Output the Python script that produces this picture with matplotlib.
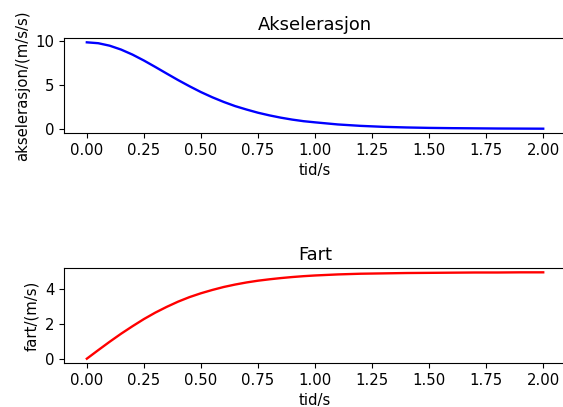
import matplotlib
matplotlib.use('Agg')
import matplotlib.pyplot as plt

# time points (s)
tid = [0.00, 0.05, 0.10, 0.15, 0.20, 0.25, 0.30, 0.35, 0.40, 0.45,
       0.50, 0.55, 0.60, 0.65, 0.70, 0.75, 0.80, 0.85, 0.90, 0.95,
       1.00, 1.10, 1.20, 1.30, 1.40, 1.50, 1.60, 1.70, 1.80, 1.90, 2.00]

# acceleration (m/s/s)
akselerasjon = [9.81, 9.71, 9.43, 8.99, 8.42, 7.75, 7.02, 6.27, 5.53, 4.83,
                4.17, 3.58, 3.05, 2.58, 2.19, 1.83, 1.53, 1.27, 1.05, 0.87,
                0.74, 0.50, 0.34, 0.23, 0.16, 0.11, 0.08, 0.06, 0.04, 0.03, 0.02]

# speed (m/s)
fart = [0.00, 0.49, 0.97, 1.43, 1.86, 2.27, 2.64, 2.97, 3.27, 3.53,
        3.75, 3.94, 4.11, 4.25, 4.37, 4.47, 4.55, 4.62, 4.68, 4.73,
        4.77, 4.83, 4.87, 4.89, 4.91, 4.92, 4.93, 4.94, 4.94, 4.95, 4.95]

xticks = [0.0, 0.25, 0.5, 0.75, 1.0, 1.25, 1.5, 1.75, 2.0]

plt.rcParams['font.size'] = 10.7

fig = plt.figure(figsize=(5.63, 4.07), dpi=100)

# top panel
ax1 = fig.add_axes([0.1137, 0.6732, 0.8917, 0.2334])
ax1.plot(tid, akselerasjon, color='blue', linewidth=1.7)
ax1.set_title('Akselerasjon')
ax1.set_xlabel('tid/s')
ax1.set_ylabel('akselerasjon/(m/s/s)')
ax1.set_xticks(xticks)

# bottom panel
ax2 = fig.add_axes([0.1137, 0.1081, 0.8917, 0.2334])
ax2.plot(tid, fart, color='red', linewidth=1.7)
ax2.set_title('Fart')
ax2.set_xlabel('tid/s')
ax2.set_ylabel('fart/(m/s)')
ax2.set_xticks(xticks)

plt.savefig('out.png', dpi=100)
plt.close()
